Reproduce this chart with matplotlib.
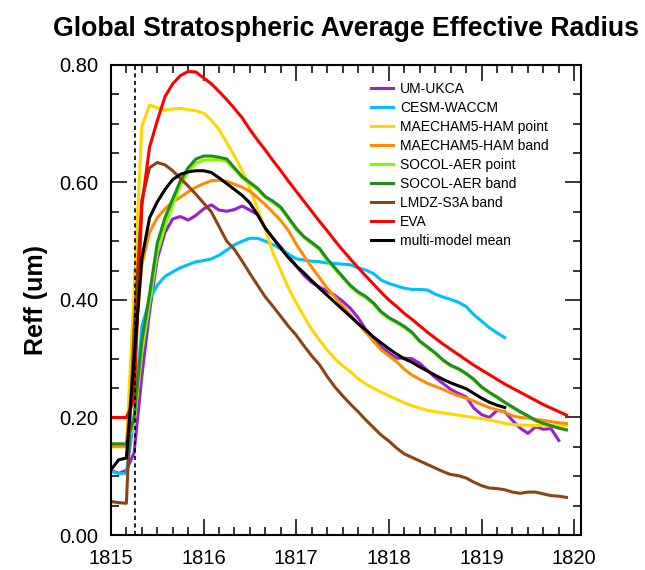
import numpy as np
import matplotlib
matplotlib.use("Agg")
import matplotlib.pyplot as plt
from matplotlib.ticker import MultipleLocator

plt.rcParams['font.family'] = ['Liberation Sans', 'DejaVu Sans']

# monthly values starting Jan 1815
um_ukca = [0.110, 0.105, 0.110, 0.140, 0.270, 0.380, 0.470, 0.515, 0.538, 0.542,
           0.536, 0.544, 0.555, 0.562, 0.553, 0.551, 0.554, 0.560, 0.553, 0.545,
           0.522, 0.505, 0.490, 0.475, 0.458, 0.442, 0.430, 0.422, 0.415, 0.408,
           0.398, 0.386, 0.370, 0.350, 0.335, 0.320, 0.310, 0.301, 0.301, 0.300,
           0.292, 0.280, 0.268, 0.258, 0.248, 0.241, 0.235, 0.216, 0.205, 0.200,
           0.212, 0.210, 0.195, 0.182, 0.173, 0.184, 0.180, 0.181, 0.161]
cesm_waccm = [0.108, 0.105, 0.105, 0.200, 0.355, 0.400, 0.425, 0.440, 0.448, 0.455,
              0.460, 0.465, 0.467, 0.470, 0.476, 0.485, 0.494, 0.500, 0.505, 0.505,
              0.500, 0.494, 0.487, 0.478, 0.470, 0.468, 0.466, 0.465, 0.463, 0.462,
              0.461, 0.460, 0.455, 0.451, 0.445, 0.434, 0.428, 0.424, 0.420, 0.418,
              0.418, 0.417, 0.410, 0.405, 0.401, 0.396, 0.389, 0.375, 0.364, 0.353,
              0.344, 0.336]
maecham_point = [0.150, 0.150, 0.150, 0.420, 0.695, 0.732, 0.727, 0.723, 0.725, 0.726,
                 0.724, 0.722, 0.718, 0.706, 0.690, 0.668, 0.645, 0.620, 0.590, 0.555,
                 0.520, 0.480, 0.450, 0.420, 0.395, 0.372, 0.350, 0.332, 0.315, 0.300,
                 0.288, 0.278, 0.266, 0.257, 0.250, 0.243, 0.237, 0.231, 0.225, 0.220,
                 0.216, 0.212, 0.210, 0.208, 0.206, 0.204, 0.202, 0.200, 0.198, 0.196,
                 0.193, 0.190, 0.188, 0.187, 0.187, 0.186, 0.187, 0.186, 0.186, 0.186]
maecham_band = [0.151, 0.151, 0.151, 0.300, 0.460, 0.515, 0.540, 0.555, 0.567, 0.575,
                0.584, 0.592, 0.598, 0.603, 0.604, 0.602, 0.597, 0.592, 0.585, 0.574,
                0.562, 0.549, 0.535, 0.518, 0.495, 0.475, 0.456, 0.438, 0.420, 0.405,
                0.390, 0.375, 0.360, 0.345, 0.330, 0.315, 0.305, 0.295, 0.282, 0.272,
                0.265, 0.258, 0.253, 0.248, 0.242, 0.237, 0.233, 0.228, 0.222, 0.217,
                0.213, 0.209, 0.203, 0.200, 0.199, 0.197, 0.195, 0.193, 0.191, 0.190]
socol_point = [0.155, 0.155, 0.155, 0.190, 0.310, 0.395, 0.480, 0.525, 0.562, 0.595,
               0.618, 0.633, 0.638, 0.639, 0.639, 0.636, 0.622, 0.608, 0.598, 0.588,
               0.575, 0.566, 0.556, 0.538, 0.520, 0.506, 0.496, 0.486, 0.468, 0.453,
               0.438, 0.423, 0.412, 0.404, 0.393, 0.378, 0.368, 0.361, 0.353, 0.343,
               0.329, 0.319, 0.309, 0.297, 0.288, 0.282, 0.274, 0.264, 0.251, 0.242,
               0.234, 0.225, 0.217, 0.209, 0.202, 0.195, 0.190, 0.186, 0.182, 0.179]
socol_band = [0.155, 0.155, 0.155, 0.200, 0.330, 0.410, 0.497, 0.540, 0.572, 0.603,
              0.625, 0.640, 0.645, 0.645, 0.643, 0.640, 0.625, 0.610, 0.600, 0.590,
              0.576, 0.568, 0.558, 0.540, 0.522, 0.508, 0.498, 0.488, 0.470, 0.455,
              0.440, 0.425, 0.414, 0.406, 0.395, 0.380, 0.370, 0.363, 0.355, 0.345,
              0.330, 0.320, 0.310, 0.298, 0.289, 0.283, 0.275, 0.265, 0.252, 0.243,
              0.235, 0.226, 0.218, 0.210, 0.203, 0.195, 0.190, 0.186, 0.182, 0.179]
lmdz_band = [0.057, 0.055, 0.054, 0.350, 0.570, 0.625, 0.634, 0.630, 0.620, 0.607,
             0.594, 0.580, 0.565, 0.550, 0.525, 0.500, 0.486, 0.466, 0.445, 0.425,
             0.405, 0.389, 0.372, 0.355, 0.340, 0.322, 0.305, 0.290, 0.270, 0.252,
             0.237, 0.223, 0.210, 0.196, 0.183, 0.170, 0.160, 0.148, 0.138, 0.132,
             0.126, 0.120, 0.114, 0.108, 0.103, 0.101, 0.097, 0.090, 0.084, 0.080,
             0.079, 0.077, 0.073, 0.071, 0.073, 0.073, 0.070, 0.067, 0.066, 0.064]
eva = [0.200, 0.200, 0.200, 0.230, 0.560, 0.660, 0.705, 0.746, 0.768, 0.782,
       0.789, 0.788, 0.778, 0.768, 0.755, 0.741, 0.726, 0.710, 0.690, 0.672,
       0.655, 0.637, 0.620, 0.602, 0.585, 0.568, 0.551, 0.534, 0.518, 0.501,
       0.485, 0.470, 0.455, 0.441, 0.427, 0.413, 0.400, 0.389, 0.377, 0.367,
       0.356, 0.345, 0.335, 0.325, 0.316, 0.307, 0.298, 0.289, 0.281, 0.273,
       0.265, 0.257, 0.250, 0.243, 0.236, 0.229, 0.222, 0.216, 0.210, 0.204]
mmm = [0.111, 0.128, 0.131, 0.300, 0.470, 0.540, 0.567, 0.588, 0.605, 0.614,
       0.618, 0.620, 0.620, 0.617, 0.608, 0.598, 0.588, 0.578, 0.565, 0.545,
       0.522, 0.505, 0.488, 0.472, 0.458, 0.446, 0.433, 0.420, 0.408, 0.396,
       0.384, 0.372, 0.360, 0.349, 0.337, 0.327, 0.317, 0.308, 0.300, 0.294,
       0.286, 0.279, 0.272, 0.265, 0.259, 0.254, 0.249, 0.241, 0.233, 0.226,
       0.221, 0.217]

series = [
    ("UM-UKCA", um_ukca, "#9a1fd0"),
    ("CESM-WACCM", cesm_waccm, "#00bfff"),
    ("MAECHAM5-HAM point", maecham_point, "#ffd700"),
    ("MAECHAM5-HAM band", maecham_band, "#ff8c00"),
    ("SOCOL-AER point", socol_point, "#7cfc00"),
    ("SOCOL-AER band", socol_band, "#228b22"),
    ("LMDZ-S3A band", lmdz_band, "#8b4513"),
    ("EVA", eva, "#ff0000"),
    ("multi-model mean", mmm, "#000000"),
]
eruption = 1815.26

fig = plt.figure(figsize=(6.45, 5.7), dpi=100)
ax = fig.add_axes([0.172, 0.0614, 0.729, 0.8246])

for name, vals, col in series:
    t = 1815 + np.arange(len(vals)) / 12.0
    ax.plot(t, vals, color=col, lw=2.2, label=name, solid_joinstyle='round')

ax.axvline(eruption, color='black', lw=1.2, ls=(0, (2.5, 2)))

ax.set_xlim(1815, 1820.075)
ax.set_ylim(0, 0.8)
ax.xaxis.set_major_locator(MultipleLocator(1))
ax.xaxis.set_minor_locator(MultipleLocator(1 / 6))
ax.yaxis.set_major_locator(MultipleLocator(0.2))
ax.yaxis.set_minor_locator(MultipleLocator(0.05))
ax.xaxis.set_major_formatter(plt.FuncFormatter(lambda v, p: "%d" % round(v)))
ax.yaxis.set_major_formatter(plt.FuncFormatter(lambda v, p: "%.2f" % v))
ax.tick_params(which='both', direction='in', top=True, right=True, width=1.1,
               labelsize=14.5)
ax.tick_params(which='major', length=11.5)
ax.tick_params(which='minor', length=5.8)
ax.tick_params(axis='y', pad=9)
ax.tick_params(axis='x', pad=10)
for s in ax.spines.values():
    s.set_linewidth(1.5)

ax.set_ylabel("Reff (um)", fontsize=18, fontweight='bold', labelpad=8)
fig.text(0.536, 0.949, "Global Stratospheric Average Effective Radius",
         ha='center', va='center', fontsize=19.2, fontweight='bold')

ax.legend(loc='upper left', bbox_to_anchor=(0.5535, 0.964), frameon=False,
          fontsize=10, handlelength=1.6, handletextpad=0.5, labelspacing=0.36,
          borderpad=0, borderaxespad=0)

fig.savefig("out.png", dpi=100)
